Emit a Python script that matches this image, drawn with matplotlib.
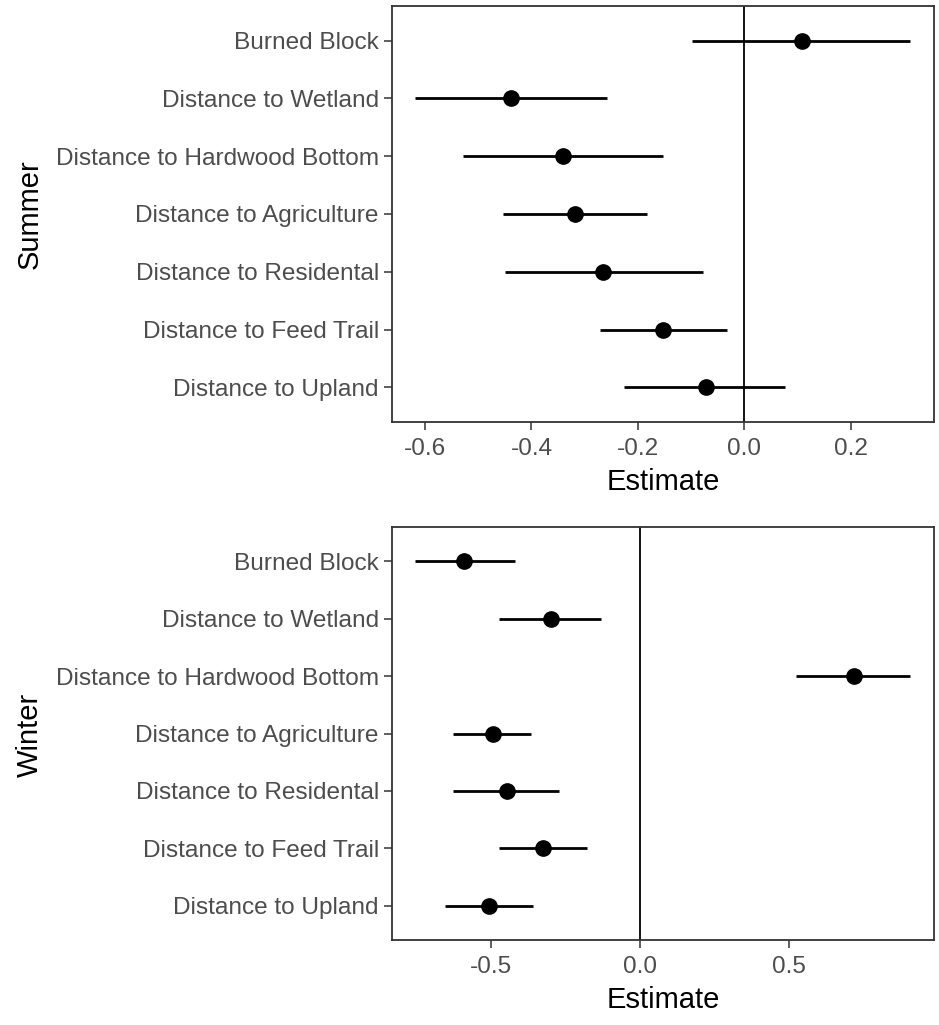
import matplotlib
matplotlib.use("Agg")
import matplotlib.pyplot as plt

plt.rcParams['font.family'] = ['Liberation Sans', 'DejaVu Sans']

labels = ["Burned Block", "Distance to Wetland", "Distance to Hardwood Bottom",
          "Distance to Agriculture", "Distance to Residental",
          "Distance to Feed Trail", "Distance to Upland"]

# summer model estimates and interval bounds
summer_est = [0.108, -0.439, -0.341, -0.319, -0.266, -0.153, -0.073]
summer_lo = [-0.099, -0.619, -0.528, -0.453, -0.449, -0.272, -0.227]
summer_hi = [0.311, -0.258, -0.153, -0.183, -0.077, -0.032, 0.077]

# winter model estimates and interval bounds
winter_est = [-0.590, -0.298, 0.718, -0.495, -0.446, -0.326, -0.508]
winter_lo = [-0.756, -0.472, 0.525, -0.629, -0.629, -0.472, -0.655]
winter_hi = [-0.421, -0.130, 0.907, -0.367, -0.273, -0.178, -0.359]

summer_ticks = [-0.6, -0.4, -0.2, 0.0, 0.2]
winter_ticks = [-0.5, 0.0, 0.5]

W, H = 939, 1025
fig = plt.figure(figsize=(W / 100, H / 100), dpi=100)
ax1 = fig.add_axes([392 / W, 1 - 422 / H, 542 / W, 416 / H])
ax2 = fig.add_axes([392 / W, 1 - 940 / H, 542 / W, 413 / H])


def forest(ax, est, lo, hi, ticks, xlim):
    n = len(labels)
    ys = list(range(n, 0, -1))
    ax.axvline(0, color='black', lw=1.3, zorder=1)
    ax.hlines(ys, lo, hi, color='black', lw=2.0, zorder=2)
    ax.plot(est, ys, 'o', color='black', ms=11, zorder=3)
    ax.set_ylim(0.4, n + 0.6)
    ax.set_xlim(*xlim)
    ax.set_yticks(ys)
    ax.set_yticklabels(labels)
    ax.set_xticks(ticks)
    ax.set_xticklabels([f"{t:.1f}" for t in ticks])
    ax.tick_params(axis='both', labelsize=17.6, labelcolor='#4d4d4d',
                   color='#333333', length=5.5, width=1.1)
    ax.tick_params(axis='y', pad=4)
    ax.tick_params(axis='x', pad=6)
    for s in ax.spines.values():
        s.set_color('#333333')
        s.set_linewidth(1.3)


forest(ax1, summer_est, summer_lo, summer_hi, summer_ticks, (-0.662, 0.356))
forest(ax2, winter_est, winter_lo, winter_hi, winter_ticks, (-0.833, 0.988))

fig.text(663 / W, 1 - 482 / H, "Estimate", ha='center', va='center', fontsize=21)
fig.text(663 / W, 1 - 1000 / H, "Estimate", ha='center', va='center', fontsize=21)
fig.text(30 / W, 1 - 214 / H, "Summer", ha='center', va='center', rotation=90, fontsize=21)
fig.text(30 / W, 1 - 735 / H, "Winter", ha='center', va='center', rotation=90, fontsize=21)

fig.savefig("out.png", dpi=100, facecolor='white')
